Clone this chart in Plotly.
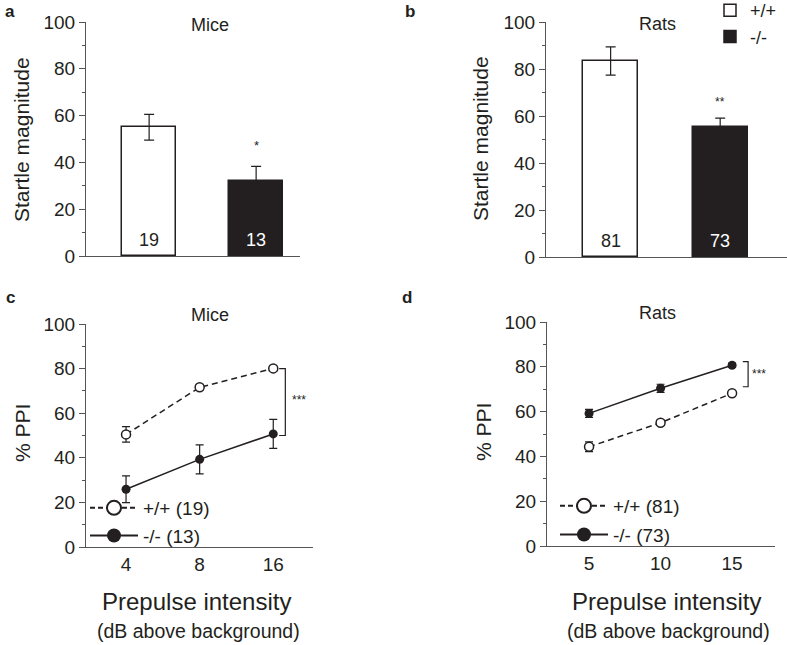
import plotly.graph_objects as go

# ---- data ----
groups = ["+/+", "-/-"]

mice_startle = [55, 32]
mice_startle_err = [5.5, 6.3]
mice_n = ["19", "13"]

rats_startle = [83.4, 55.3]
rats_startle_err = [6.0, 3.8]
rats_n = ["81", "73"]

mice_db = ["4", "8", "16"]
mice_ppi_wt = [50.5, 71.6, 80.1]
mice_ppi_wt_err = [3.5, 1.2, 1.0]
mice_ppi_ko = [25.9, 39.3, 50.7]
mice_ppi_ko_err = [6.0, 6.5, 6.5]

rats_db = [5, 10, 15]
rats_ppi_wt = [44.3, 55.0, 68.2]
rats_ppi_wt_err = [2.2, 1.2, 1.2]
rats_ppi_ko = [59.2, 70.4, 80.7]
rats_ppi_ko_err = [1.8, 1.8, 1.0]

W, H = 787, 645
FONT = "Liberation Sans, Arial, sans-serif"
AX = "#555555"
TXT = "#231f20"
BLACK = "#231f20"
DASH = "6px,4px"


def px(x):
    return x / W


def py(y):
    return 1 - y / H


fig = go.Figure()

# ---- a: mice startle ----
fig.add_trace(go.Bar(
    x=[0, 1], y=mice_startle, width=0.5,
    marker=dict(color=["white", BLACK], line=dict(color=BLACK, width=1.5)),
    error_y=dict(type="data", array=mice_startle_err, color=BLACK, thickness=1.2, width=5),
    xaxis="x", yaxis="y", showlegend=False,
))

# ---- b: rats startle ----
fig.add_trace(go.Bar(
    x=[0], y=[rats_startle[0]], width=0.5, name=groups[0],
    marker=dict(color="white", line=dict(color=BLACK, width=1.5)),
    error_y=dict(type="data", array=[rats_startle_err[0]], color=BLACK, thickness=1.2, width=5),
    xaxis="x2", yaxis="y2", legend="legend", legendgroup="bwt",
))
fig.add_trace(go.Bar(
    x=[1], y=[rats_startle[1]], width=0.5, name=groups[1],
    marker=dict(color=BLACK, line=dict(color=BLACK, width=1.5)),
    error_y=dict(type="data", array=[rats_startle_err[1]], color=BLACK, thickness=1.2, width=5),
    xaxis="x2", yaxis="y2", legend="legend", legendgroup="bko",
))

# ---- c: mice PPI ----
xi = list(range(len(mice_db)))
fig.add_trace(go.Scatter(
    x=xi, y=mice_ppi_wt, mode="lines+markers",
    line=dict(color=BLACK, width=1.5, dash=DASH),
    marker=dict(symbol="circle", size=9, color="white", line=dict(color=BLACK, width=1.5)),
    error_y=dict(type="data", array=mice_ppi_wt_err, color=BLACK, thickness=1.2, width=4),
    xaxis="x3", yaxis="y3", showlegend=False,
))
fig.add_trace(go.Scatter(
    x=xi, y=mice_ppi_ko, mode="lines+markers",
    line=dict(color=BLACK, width=1.5),
    marker=dict(symbol="circle", size=9, color=BLACK),
    error_y=dict(type="data", array=mice_ppi_ko_err, color=BLACK, thickness=1.2, width=4),
    xaxis="x3", yaxis="y3", showlegend=False,
))

# ---- d: rats PPI ----
fig.add_trace(go.Scatter(
    x=rats_db, y=rats_ppi_wt, mode="lines+markers",
    line=dict(color=BLACK, width=1.5, dash=DASH),
    marker=dict(symbol="circle", size=9, color="white", line=dict(color=BLACK, width=1.5)),
    error_y=dict(type="data", array=rats_ppi_wt_err, color=BLACK, thickness=1.2, width=4),
    xaxis="x4", yaxis="y4", showlegend=False,
))
fig.add_trace(go.Scatter(
    x=rats_db, y=rats_ppi_ko, mode="lines+markers",
    line=dict(color=BLACK, width=1.5),
    marker=dict(symbol="circle", size=9, color=BLACK),
    error_y=dict(type="data", array=rats_ppi_ko_err, color=BLACK, thickness=1.2, width=4),
    xaxis="x4", yaxis="y4", showlegend=False,
))

# legend-only entries (bigger markers like the original)
for leg, labels, xa, ya in [("legend2", ["+/+ (19)", "-/- (13)"], "x3", "y3"),
                            ("legend3", ["+/+ (81)", "-/- (73)"], "x4", "y4")]:
    fig.add_trace(go.Scatter(
        x=[None], y=[None], mode="lines+markers", name=labels[0], legend=leg,
        line=dict(color=BLACK, width=2, dash="5px,3px"),
        marker=dict(symbol="circle", size=14, color="white", line=dict(color=BLACK, width=2)),
        xaxis=xa, yaxis=ya, legendgroup=leg + "wt",
    ))
    fig.add_trace(go.Scatter(
        x=[None], y=[None], mode="lines+markers", name=labels[1], legend=leg,
        line=dict(color=BLACK, width=2),
        marker=dict(symbol="circle", size=14, color=BLACK),
        xaxis=xa, yaxis=ya, legendgroup=leg + "ko",
    ))

yax = dict(range=[0, 100], dtick=20, showline=True, linecolor=AX, linewidth=1.2,
           ticks="outside", ticklen=6, tickcolor=AX, tickwidth=1.2, automargin=False,
           minor=dict(ticks="outside", ticklen=3, dtick=10, tickcolor=AX, tickwidth=1),
           showgrid=False, zeroline=False, tickfont=dict(size=19, color=TXT), fixedrange=True)
xbar = dict(showline=True, linecolor=AX, linewidth=1.2, showticklabels=False, ticks="",
            showgrid=False, zeroline=False, automargin=False)
xline = dict(showline=True, linecolor=AX, linewidth=1.2, ticks="", showgrid=False,
             zeroline=False, automargin=False, tickfont=dict(size=19, color=TXT))

fig.update_layout(
    width=W, height=H, margin=dict(l=0, r=0, t=0, b=0, autoexpand=False),
    paper_bgcolor="white", plot_bgcolor="white",
    font=dict(family=FONT, color=TXT),
    bargap=0,
    xaxis=dict(xbar, domain=[px(86), px(300)], range=[-0.59, 1.41], anchor="y"),
    yaxis=dict(yax, domain=[py(256), py(22)], anchor="x"),
    xaxis2=dict(xbar, domain=[px(546), 1.0], range=[-0.59, 1.61], anchor="y2"),
    yaxis2=dict(yax, domain=[py(257), py(22)], anchor="x2"),
    xaxis3=dict(xline, domain=[px(86), px(313)], range=[-0.544, 2.54], anchor="y3",
                tickvals=xi, ticktext=mice_db),
    yaxis3=dict(yax, domain=[py(547), py(324)], anchor="x3"),
    xaxis4=dict(xline, domain=[px(547), px(775)], range=[2.06, 18.0], anchor="y4",
                tickvals=rats_db),
    yaxis4=dict(yax, domain=[py(546), py(322)], anchor="x4"),
    legend=dict(x=px(710), y=py(-8), xanchor="left", yanchor="top", bgcolor="rgba(0,0,0,0)",
                font=dict(size=18, color=TXT), tracegroupgap=3, itemwidth=30,
                traceorder="normal"),
    legend2=dict(x=px(85), y=py(489), xanchor="left", yanchor="top", bgcolor="rgba(0,0,0,0)",
                 font=dict(size=19, color=TXT), tracegroupgap=0, itemwidth=48),
    legend3=dict(x=px(555), y=py(487), xanchor="left", yanchor="top", bgcolor="rgba(0,0,0,0)",
                 font=dict(size=19, color=TXT), tracegroupgap=1, itemwidth=48),
)

ann = []


def label(text, x, y, size, **kw):
    d = dict(text=text, x=px(x), y=py(y), xref="paper", yref="paper", xanchor="center",
             yanchor="middle", showarrow=False, font=dict(size=size))
    d.update(kw)
    ann.append(d)


# panel letters
for t, x, y in [("a", 10, 12), ("b", 410, 12), ("c", 10, 297), ("d", 407, 297)]:
    label(f"<b>{t}</b>", x, y, 17)
# panel titles
for t, x, y in [("Mice", 210, 25), ("Rats", 657, 24), ("Mice", 210, 315), ("Rats", 657, 313)]:
    label(t, x, y, 18)
# y titles
for t, x, y in [("Startle magnitude", 22, 140), ("Startle magnitude", 480, 139),
                ("% PPI", 23, 433), ("% PPI", 483, 432)]:
    label(t, x, y, 21, textangle=-90)
# x titles
for x, x2 in [(196, 199), (666, 668)]:
    label("Prepulse intensity", x, 601, 24)
    label("(dB above background)", x2, 631, 19.5)
# n inside bars
for i, n in enumerate(mice_n):
    ann.append(dict(text=n, x=i, y=7, xref="x", yref="y", showarrow=False,
                    font=dict(size=18, color=TXT if i == 0 else "white")))
for i, n in enumerate(rats_n):
    ann.append(dict(text=n, x=i, y=7, xref="x2", yref="y2", showarrow=False,
                    font=dict(size=18, color=TXT if i == 0 else "white")))
# significance stars
ann.append(dict(text="*", x=1, y=mice_startle[1] + mice_startle_err[1] + 9, xref="x", yref="y",
                showarrow=False, font=dict(size=13)))
ann.append(dict(text="**", x=1, y=rats_startle[1] + rats_startle_err[1] + 7, xref="x2", yref="y2",
                showarrow=False, font=dict(size=12)))
ann.append(dict(text="***", x=2.23, y=66, xref="x3", yref="y3", xanchor="left",
                showarrow=False, font=dict(size=12)))
ann.append(dict(text="***", x=16.25, y=77, xref="x4", yref="y4", xanchor="left",
                showarrow=False, font=dict(size=12)))
fig.update_layout(annotations=ann)

# brackets
fig.add_shape(type="path", path="M 2.08,80 L 2.164,80 L 2.164,50 L 2.08,50",
              xref="x3", yref="y3", line=dict(color=BLACK, width=1.2))
fig.add_shape(type="path", path="M 15.75,82.3 L 16.12,82.3 L 16.12,71.1 L 15.75,71.1",
              xref="x4", yref="y4", line=dict(color=BLACK, width=1.2))

# drop the default 8px page margin so the figure fills the window exactly
fig.write_html("out.html", config={"displayModeBar": False},
               post_script="document.body.style.margin = '0';")
